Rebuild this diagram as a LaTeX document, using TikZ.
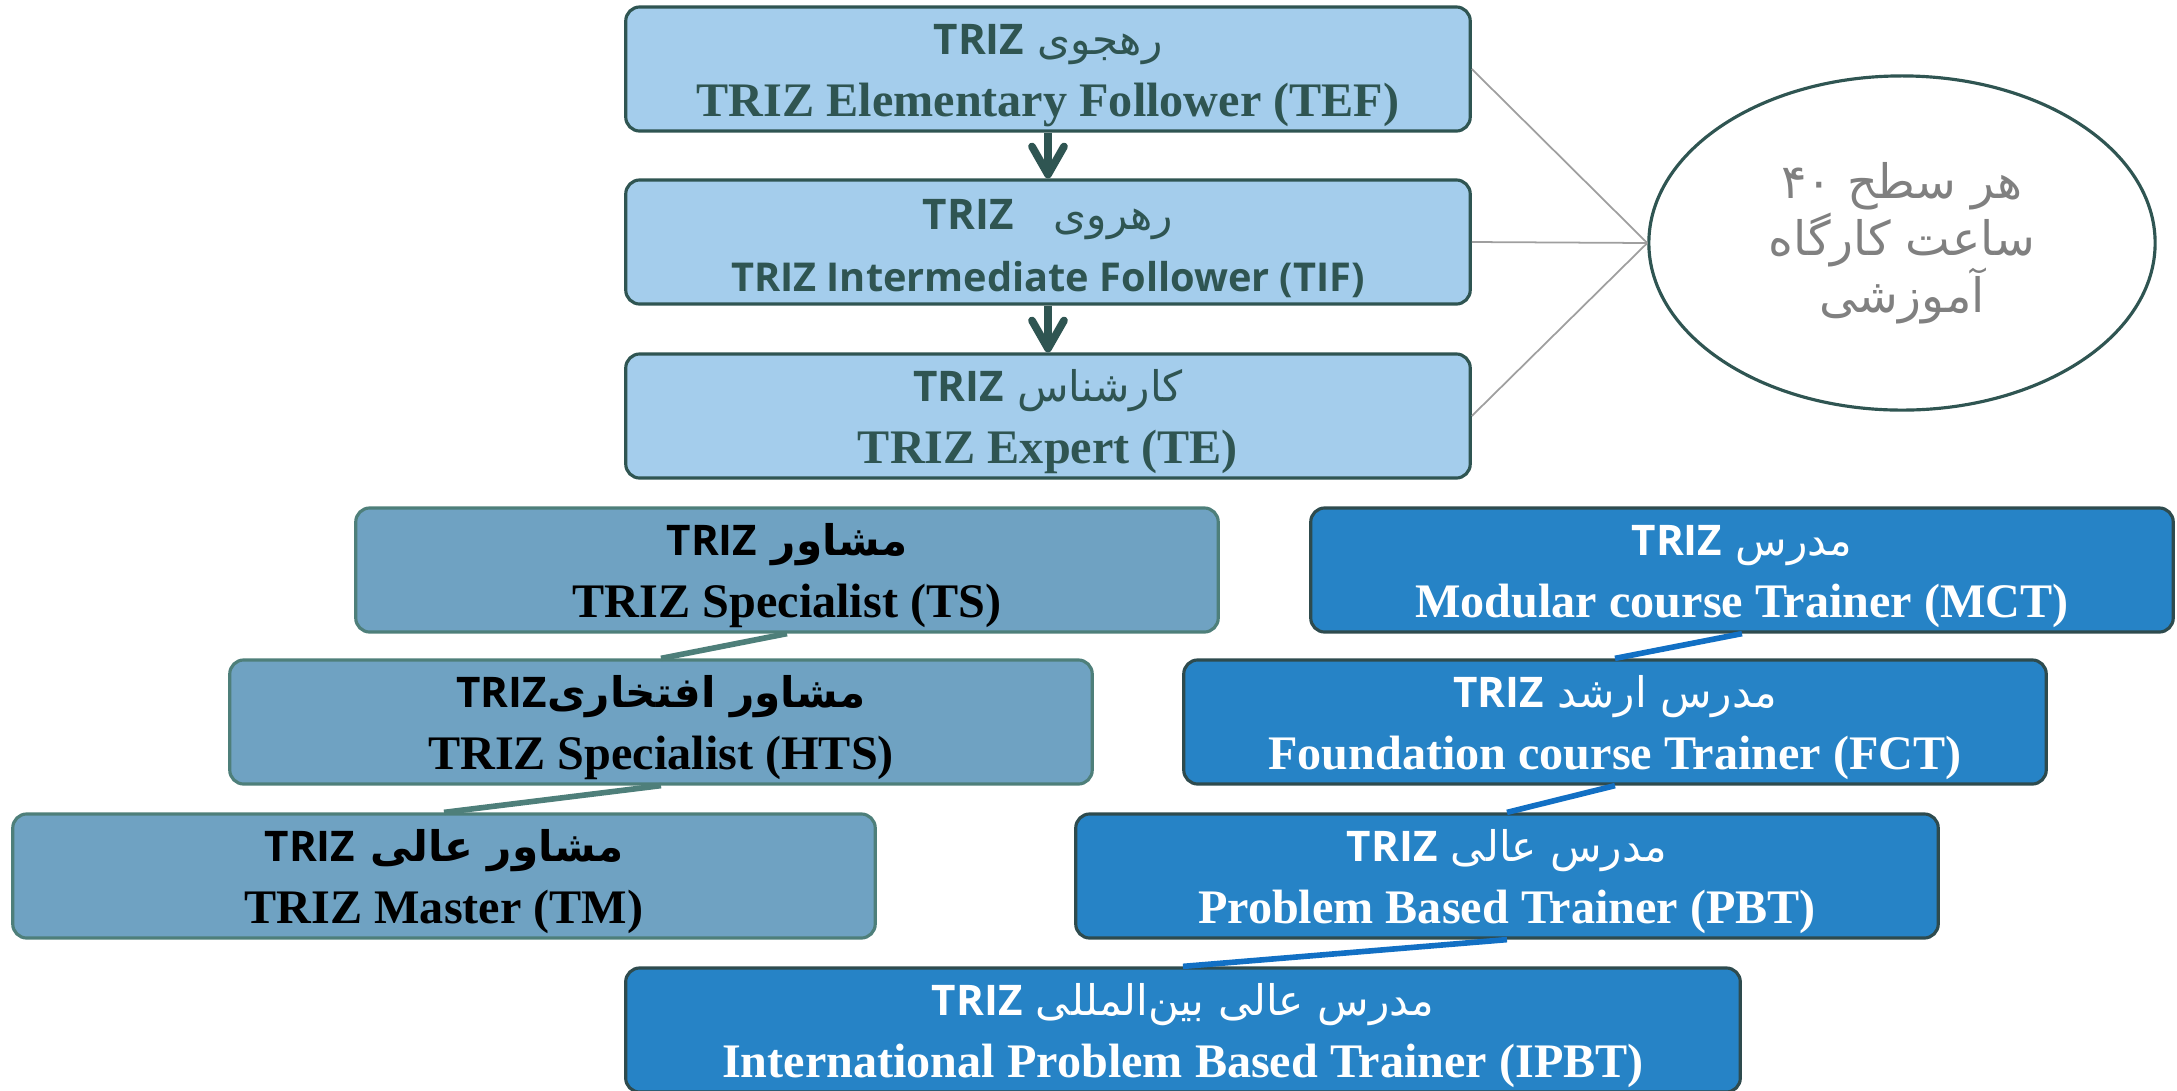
\documentclass[tikz,border=0pt]{standalone}
\usepackage{fontspec}
\setmainfont{Liberation Serif}
\newfontfamily\persianfont[Script=Arabic]{DejaVu Sans}
\newfontfamily\opensans{Open Sans}
\TeXXeTstate=1
\usetikzlibrary{arrows.meta, shapes.geometric}

\definecolor{topfill}{HTML}{A4CDEC}
\definecolor{topline}{HTML}{2F5552}
\definecolor{advfill}{HTML}{6FA2C2}
\definecolor{advline}{HTML}{4E7F7A}
\definecolor{trnfill}{HTML}{2683C6}
\definecolor{trnline}{HTML}{2E4B4E}
\definecolor{trnlink}{HTML}{1270C4}

\newcommand\fatxt[2][\mdseries]{{\persianfont#1\fontsize{12}{17.4}\selectfont\rule{0pt}{4.3mm}\beginR #2\endR}}
\newcommand\trizmark{\beginL{\opensans\bfseries TRIZ}\endL}
\newcommand\tightlines{\setlength{\lineskiplimit}{-20pt}}

\tikzset{
  levelbox/.style={rectangle, rounded corners=0.14cm, line width=0.9pt,
    minimum width=8.62cm, minimum height=1.24cm, inner ysep=0pt, align=center,
    font=\bfseries\fontsize{13.7}{17.6}\selectfont},
  topbox/.style={levelbox, fill=topfill, draw=topline, text=topline, minimum width=8.44cm},
  advbox/.style={levelbox, fill=advfill, draw=advline, text=black},
  trnbox/.style={levelbox, fill=trnfill, draw=trnline, text=white},
  advlink/.style={draw=advline, line width=1.6pt},
  trnlink/.style={draw=trnlink, line width=1.6pt},
  steparrow/.style={draw=topline, line width=2.2pt, -{Straight Barb[round, length=2.8mm, width=3.2mm]}},
  hoursnote/.style={ellipse, draw=topline, line width=0.9pt, minimum width=5.06cm,
    minimum height=3.34cm, align=center, text=gray,
    font={\persianfont\fontsize{13.5}{16.2}\selectfont}},
  notelink/.style={draw=gray!75, line width=0.5pt}
}

\begin{document}
\begin{tikzpicture}[x=0.01cm, y=-0.01cm]
\useasboundingbox (0,0) rectangle (2177,1090);

% Follower levels
\node[topbox] (tef) at (1048,69) {\fatxt{رهجوی \trizmark}\\ TRIZ Elementary Follower (TEF)};
\node[topbox] (tif) at (1048,242) {\fatxt{رهروی\ \ \ \trizmark}\\ {\opensans\bfseries\fontsize{11.3}{17.6}\selectfont TRIZ Intermediate Follower (TIF)}};
\node[topbox] (te) at (1048,416) {\fatxt{کارشناس \trizmark}\\ TRIZ Expert (TE)};

\draw[steparrow] (tef.south) -- (tif.north);
\draw[steparrow] (tif.south) -- (te.north);

% Workshop hours
\node[hoursnote] (hours) at (1902,243)
  {\tightlines\beginR هر سطح \beginL۴۰\endL\endR\\ \beginR ساعت کارگاه\endR\\ \beginR آموزشی\endR};
\foreach \lvl in {tef,tif,te}{
  \draw[notelink] (\lvl.east) -- (hours.west);
}

% Specialist track
\node[advbox] (ts) at (787,570) {\fatxt[\bfseries]{مشاور \trizmark}\\ TRIZ Specialist (TS)};
\node[advbox] (hts) at (661,722) {\fatxt[\bfseries]{مشاور افتخاری\trizmark}\\ TRIZ Specialist (HTS)};
\node[advbox] (tm) at (444,876) {\fatxt[\bfseries]{مشاور عالی \trizmark}\\ TRIZ Master (TM)};

\draw[advlink] (ts.south) -- (hts.north);
\draw[advlink] (hts.south) -- (tm.north);

% Trainer track
\node[trnbox] (mct) at (1742,570) {\fatxt{مدرس \trizmark}\\ Modular course Trainer (MCT)};
\node[trnbox] (fct) at (1615,722) {\fatxt{مدرس ارشد \trizmark}\\ Foundation course Trainer (FCT)};
\node[trnbox] (pbt) at (1507,876) {\fatxt{مدرس عالی \trizmark}\\ Problem Based Trainer (PBT)};
\node[trnbox, minimum width=11.14cm] (ipbt) at (1183,1030)
  {\fatxt{مدرس عالی بین‌المللی \trizmark}\\ International Problem Based Trainer (IPBT)};

\draw[trnlink] (mct.south) -- (fct.north);
\draw[trnlink] (fct.south) -- (pbt.north);
\draw[trnlink] (pbt.south) -- (ipbt.north);
\end{tikzpicture}
\end{document}
